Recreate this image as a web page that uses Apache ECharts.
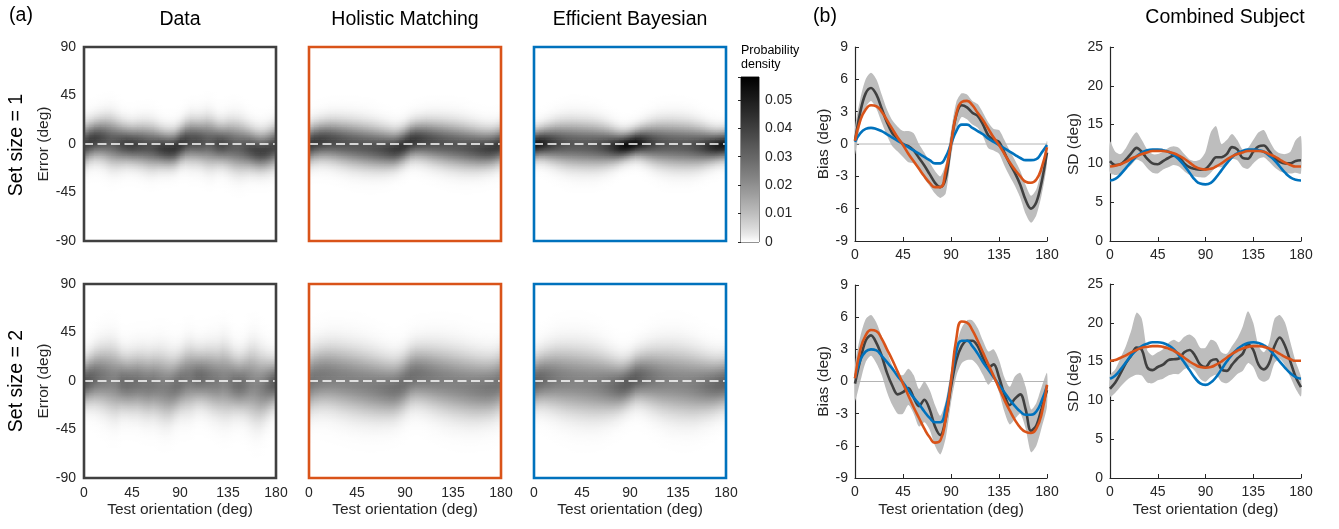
<!DOCTYPE html>
<html><head><meta charset="utf-8">
<script src="https://cdn.jsdelivr.net/npm/echarts@6/dist/echarts.min.js"></script>
<style>html,body{margin:0;padding:0;background:#fff}#c{width:1339px;height:529px}</style>
</head><body><div id="c"></div>
<script>
// ---------- DATA ----------
const ORIENT = [0,5,10,15,20,25,30,35,40,45,50,55,60,65,70,75,80,85,90,95,100,105,110,115,120,125,130,135,140,145,150,155,160,165,170,175,180];
const X_TICKS = [0,45,90,135,180];
const ERR_TICKS = [-90,-45,0,45,90];

// Set size = 1 : bias (deg)
const biasData1   = [0.3,3.0,4.7,5.2,4.6,3.3,2.0,1.0,0.5,0.0,-0.2,-0.6,-1.3,-2.0,-2.8,-3.6,-4.0,-3.2,0.0,2.7,3.6,3.4,2.9,2.6,1.8,0.8,0.4,0.2,-0.8,-1.8,-2.7,-3.8,-5.2,-6.0,-5.4,-3.5,-0.8];
const biasData1Hi = [1.5,4.2,6.0,6.6,6.0,4.6,3.2,2.2,1.6,1.2,1.2,1.0,0.0,-0.8,-1.7,-2.5,-3.0,-1.8,1.2,3.9,4.7,4.6,4.0,3.7,2.9,2.0,1.4,1.3,0.4,-0.6,-1.5,-2.5,-3.8,-4.8,-4.2,-2.3,0.3];
const biasData1Lo = [-1.0,1.8,3.4,4.0,3.3,2.0,0.8,-0.2,-0.7,-1.2,-1.7,-1.8,-2.4,-3.2,-3.9,-4.6,-5.0,-4.6,-1.2,1.4,2.5,2.3,1.8,1.5,0.7,-0.4,-0.6,-0.9,-2.0,-3.0,-3.9,-5.0,-6.5,-7.3,-6.6,-4.7,-1.8];
const biasHolistic1 = [0.3,2.2,3.2,3.6,3.5,3.0,2.2,1.4,0.6,-0.1,-0.9,-1.6,-2.3,-3.0,-3.6,-4.0,-4.0,-2.5,0.0,2.8,3.9,4.0,3.6,2.9,2.2,1.4,0.6,-0.1,-0.9,-1.7,-2.4,-3.0,-3.5,-3.6,-3.3,-2.2,-0.3];
const biasBayes1    = [0.2,1.0,1.4,1.5,1.4,1.2,0.9,0.6,0.3,0.0,-0.3,-0.6,-0.9,-1.2,-1.5,-1.8,-1.8,-1.2,0.0,1.2,1.8,1.8,1.5,1.2,0.9,0.5,0.2,-0.1,-0.4,-0.7,-1.0,-1.3,-1.5,-1.5,-1.4,-0.8,-0.1];

// Set size = 2 : bias (deg)
const biasData2   = [-0.2,2.0,3.8,4.3,3.6,2.4,0.8,-0.4,-1.2,-1.0,-0.6,-1.5,-2.3,-1.7,-2.6,-4.2,-5.0,-3.5,-0.5,2.0,3.3,3.8,3.8,3.3,2.2,1.3,1.6,0.4,-1.2,-2.2,-1.6,-1.2,-2.6,-4.6,-4.1,-2.5,-0.8];
const biasData2Hi = [1.5,4.2,5.8,6.2,5.5,4.2,2.8,1.5,0.7,0.6,1.2,0.6,-0.7,0.0,-0.8,-2.2,-3.2,-1.8,1.0,3.5,5.0,5.7,5.7,5.0,3.8,2.8,3.0,2.0,0.4,-0.5,0.5,0.8,-0.5,-2.6,-2.0,-0.5,0.8];
const biasData2Lo = [-1.8,0.0,1.8,2.4,1.7,0.6,-1.0,-2.2,-3.0,-3.0,-2.2,-3.0,-4.2,-3.8,-4.5,-6.0,-6.8,-5.3,-2.0,0.5,1.7,2.0,2.0,1.5,0.6,-0.3,0.2,-1.0,-2.8,-4.0,-3.5,-3.0,-4.4,-6.6,-6.0,-4.3,-2.3];
const biasHolistic2 = [0.3,3.0,4.3,4.8,4.7,4.0,3.0,2.0,0.9,-0.2,-1.3,-2.4,-3.4,-4.4,-5.2,-5.7,-5.5,-3.5,0.0,4.0,5.6,5.5,4.8,3.8,2.7,1.6,0.5,-0.6,-1.7,-2.7,-3.6,-4.3,-4.7,-4.8,-4.4,-3.0,-0.3];
const biasBayes2    = [0.3,2.0,2.8,3.0,2.9,2.4,1.8,1.2,0.5,-0.1,-0.8,-1.5,-2.1,-2.8,-3.4,-3.8,-3.8,-2.5,0.0,2.8,3.8,3.8,3.3,2.6,1.8,1.1,0.4,-0.3,-1.0,-1.7,-2.3,-2.8,-3.1,-3.1,-2.8,-1.8,-0.4];

// Set size = 1 : SD (deg)
const sdData1   = [10.3,9.8,9.9,10.5,11.3,12.0,11.5,10.6,10.0,9.9,10.3,10.7,11.0,10.8,10.0,9.5,9.3,9.2,9.3,10.0,10.8,10.8,11.2,12.1,11.8,10.7,10.6,11.5,12.2,12.3,11.6,10.7,10.2,10.0,10.0,10.3,10.4];
const sdData1Hi = [12.8,11.5,11.2,12.0,13.2,14.0,13.0,11.8,11.2,11.2,11.5,12.0,12.2,12.0,11.2,10.5,10.3,10.5,11.5,14.0,14.8,12.5,13.0,13.8,13.0,11.8,12.0,13.0,14.0,14.3,13.0,11.8,11.3,11.2,11.5,13.0,13.5];
const sdData1Lo = [8.8,8.5,8.7,9.2,9.8,10.5,10.2,9.4,8.8,8.7,9.2,9.5,9.8,9.6,9.0,8.5,8.3,8.2,8.2,8.8,9.5,9.5,9.9,10.6,10.4,9.5,9.3,10.0,10.6,10.8,10.2,9.5,9.0,8.8,8.7,8.8,8.7];
const sdHolistic1 = [9.6,9.7,9.9,10.2,10.6,10.9,11.2,11.4,11.6,11.6,11.6,11.5,11.3,11.0,10.6,10.1,9.6,9.3,9.2,9.3,9.6,10.0,10.5,10.9,11.2,11.4,11.6,11.6,11.6,11.5,11.2,10.9,10.5,10.1,9.8,9.6,9.6];
const sdBayes1    = [7.8,8.0,8.6,9.4,10.2,10.9,11.4,11.7,11.8,11.8,11.7,11.5,11.1,10.5,9.7,8.8,7.9,7.4,7.3,7.5,8.2,9.1,10.0,10.8,11.3,11.6,11.8,11.8,11.7,11.5,11.0,10.4,9.6,8.8,8.2,7.9,7.8];

// Set size = 2 : SD (deg)
const sdData2   = [11.5,12.3,13.5,14.8,15.8,16.8,16.5,14.3,13.9,14.3,14.6,15.2,15.3,15.4,16.2,16.5,15.8,14.6,14.3,15.1,15.3,14.0,13.8,14.6,15.4,16.0,17.2,16.5,14.6,14.0,14.8,17.0,18.1,17.0,15.0,13.0,11.7];
const sdData2Hi = [13.2,14.0,15.5,17.0,19.0,21.3,20.5,16.5,15.8,16.2,16.6,17.4,17.8,17.5,18.2,18.5,18.0,16.8,16.8,17.8,17.5,16.2,16.0,17.0,18.0,19.5,21.5,20.0,17.0,16.2,17.5,20.5,21.0,20.0,17.5,15.0,13.0];
const sdData2Lo = [10.5,11.0,11.8,12.5,13.0,13.3,13.2,12.3,12.2,12.6,12.8,13.2,13.4,13.4,14.0,14.3,13.8,12.8,12.4,13.0,13.3,12.4,12.2,12.7,13.4,13.8,14.8,14.3,12.8,12.4,12.8,14.8,15.3,14.5,13.0,11.5,10.5];
const sdHolistic2 = [15.1,15.2,15.5,15.8,16.2,16.5,16.8,16.9,17.0,17.0,16.9,16.7,16.4,16.0,15.5,15.0,14.6,14.3,14.2,14.3,14.6,15.0,15.5,16.0,16.4,16.7,16.9,17.0,17.0,16.9,16.7,16.4,16.0,15.6,15.3,15.1,15.1];
const sdBayes2    = [12.8,13.2,14.0,14.9,15.8,16.5,17.0,17.3,17.5,17.5,17.4,17.1,16.6,15.8,14.9,13.9,12.9,12.2,12.0,12.3,13.0,14.0,15.0,15.9,16.6,17.1,17.4,17.5,17.4,17.1,16.6,15.8,15.0,14.2,13.5,13.0,12.8];

const CB_MAX = 0.058; // colorbar top

// ---------- STYLE ----------
const FONT = "'Liberation Sans', Arial, sans-serif";
const TXT = '#262626';
const C_DATA = '#404040', C_HOL = '#D95319', C_BAY = '#0072BD', C_BAND = '#bdbdbd';
const GAMMA = 0.78;

const grids = [], xAxes = [], yAxes = [], series = [];

function grayOf(d){ const v = Math.max(0, Math.min(1, d / CB_MAX)); return Math.round(255 * (1 - Math.pow(v, GAMMA))); }
function dens(e, b, s){ return Math.exp(-(e-b)*(e-b)/(2*s*s)) / (s*Math.sqrt(2*Math.PI)); }
const rgb = g => `rgb(${g},${g},${g})`;

function renderCell(params, api){
  const p0 = api.coord([api.value(0), api.value(3)]);
  const p1 = api.coord([api.value(1), api.value(2)]);
  const g0 = api.value(4), g1 = api.value(5);
  return {type:'rect', shape:{x:p0[0], y:p0[1], width:p1[0]-p0[0]+0.7, height:p1[1]-p0[1]+0.7},
    style:{fill:new echarts.graphic.LinearGradient(0,0,1,0,[{offset:0,color:rgb(g0)},{offset:1,color:rgb(g1)}])}};
}

const STEP = 1.5;
function heatCells(b, s){
  const out = [];
  for (let i = 0; i < ORIENT.length-1; i++){
    for (let e = -90; e < 90 - 1e-9; e += STEP){
      const m = e + STEP/2;
      const g0 = grayOf(dens(m, b[i], s[i])), g1 = grayOf(dens(m, b[i+1], s[i+1]));
      if (g0 >= 255 && g1 >= 255) continue;
      out.push([ORIENT[i], ORIENT[i+1], e, e+STEP, g0, g1]);
    }
  }
  return out;
}

const axisNameStyle = {color:TXT, fontSize:15.5, fontFamily:FONT};
const tickLabel = (show, margin) => ({show, color:TXT, fontSize:14, fontFamily:FONT, margin});

// ---------- (a) heatmaps ----------
const hmLeft = [84, 309, 534], hmTop = [47, 284], HM_W = 192, HM_H = 194;
const hmSets = [
  [{b:biasData1, s:sdData1, c:C_DATA}, {b:biasHolistic1, s:sdHolistic1, c:C_HOL}, {b:biasBayes1, s:sdBayes1, c:C_BAY}],
  [{b:biasData2, s:sdData2, c:C_DATA}, {b:biasHolistic2, s:sdHolistic2, c:C_HOL}, {b:biasBayes2, s:sdBayes2, c:C_BAY}]
];
hmSets.forEach((row, r) => row.forEach((p, c) => {
  const gi = grids.length;
  grids.push({left:hmLeft[c], top:hmTop[r], width:HM_W, height:HM_H, containLabel:false});
  xAxes.push({gridIndex:gi, type:'value', min:0, max:180, interval:45,
    axisLine:{show:false}, axisTick:{show:false}, splitLine:{show:false},
    axisLabel:tickLabel(r===1, 8),
    name: r===1 ? 'Test orientation (deg)' : '', nameLocation:'middle', nameGap:24, nameTextStyle:axisNameStyle});
  yAxes.push({gridIndex:gi, type:'value', min:-90, max:90, interval:45,
    axisLine:{show:false}, axisTick:{show:false}, splitLine:{show:false},
    axisLabel:tickLabel(c===0, 8),
    name: c===0 ? 'Error (deg)' : '', nameLocation:'middle', nameGap:25, nameTextStyle:axisNameStyle});
  series.push({type:'custom', xAxisIndex:gi, yAxisIndex:gi, silent:true, clip:true, z:1,
    data:heatCells(p.b, p.s), encode:{x:[0,1], y:[2,3]}, renderItem:renderCell, progressive:0});
  series.push({type:'line', xAxisIndex:gi, yAxisIndex:gi, silent:true, z:5, symbol:'none',
    data:[[0,0],[180,0]], lineStyle:{color:'#ffffff', width:1.4, type:[9,4.5]}});
  series.push({type:'custom', xAxisIndex:gi, yAxisIndex:gi, silent:true, clip:false, z:10,
    data:[[0,0]], renderItem:(pa, api) => {
      const a = api.coord([0,90]), b2 = api.coord([180,-90]);
      return {type:'rect', shape:{x:a[0], y:a[1], width:b2[0]-a[0], height:b2[1]-a[1]},
        style:{fill:'none', stroke:p.c, lineWidth:2.6}};
    }});
}));

// ---------- colorbar ----------
{
  const gi = grids.length;
  grids.push({left:741, top:77, width:18, height:165, show:true, borderColor:TXT, borderWidth:1, backgroundColor:'transparent'});
  xAxes.push({gridIndex:gi, type:'value', min:0, max:1, show:false});
  yAxes.push({gridIndex:gi, type:'value', position:'right', min:0, max:CB_MAX, interval:0.01,
    axisLine:{show:false}, splitLine:{show:false},
    axisTick:{show:true, inside:true, length:3, lineStyle:{color:TXT}},
    axisLabel:{color:TXT, fontSize:14, fontFamily:FONT, margin:6,
      formatter:v => (Math.abs(v*100 - Math.round(v*100)) < 1e-6 && v <= 0.05 + 1e-9) ? String(+v.toFixed(2)) : ''}});
  const stops = [];
  for (let k = 0; k <= 24; k++) stops.push({offset:k/24, color:rgb(grayOf(CB_MAX*(1-k/24)))});
  series.push({type:'custom', xAxisIndex:gi, yAxisIndex:gi, silent:true, data:[[0,0]],
    renderItem:(pa, api) => {
      const a = api.coord([0, CB_MAX]), b2 = api.coord([1, 0]);
      return {type:'rect', shape:{x:a[0], y:a[1], width:b2[0]-a[0], height:b2[1]-a[1]},
        style:{fill:new echarts.graphic.LinearGradient(0,0,0,1,stops)}};
    }});
}

// ---------- (b) bias & SD ----------
function bandRender(hi, lo){
  return (params, api) => {
    const pts = [];
    for (let i = 0; i < ORIENT.length; i++) pts.push(api.coord([ORIENT[i], hi[i]]));
    for (let i = ORIENT.length-1; i >= 0; i--) pts.push(api.coord([ORIENT[i], lo[i]]));
    return {type:'polygon', shape:{points:pts, smooth:0.25}, style:{fill:C_BAND}};
  };
}
const zip = arr => ORIENT.map((x, i) => [x, arr[i]]);
const panelsB = [
  {left:855, top:47,  w:192, h:194, min:-9, max:9, iv:3, name:'Bias (deg)', gap:23, d:biasData1, hi:biasData1Hi, lo:biasData1Lo, hol:biasHolistic1, bay:biasBayes1, zero:true, xname:false},
  {left:1110, top:47, w:191, h:194, min:0, max:25, iv:5, name:'SD (deg)', gap:28, d:sdData1, hi:sdData1Hi, lo:sdData1Lo, hol:sdHolistic1, bay:sdBayes1, zero:false, xname:false},
  {left:855, top:285, w:192, h:193, min:-9, max:9, iv:3, name:'Bias (deg)', gap:23, d:biasData2, hi:biasData2Hi, lo:biasData2Lo, hol:biasHolistic2, bay:biasBayes2, zero:true, xname:true},
  {left:1110, top:284, w:191, h:194, min:0, max:25, iv:5, name:'SD (deg)', gap:28, d:sdData2, hi:sdData2Hi, lo:sdData2Lo, hol:sdHolistic2, bay:sdBayes2, zero:false, xname:true}
];
panelsB.forEach(p => {
  const gi = grids.length;
  grids.push({left:p.left, top:p.top, width:p.w, height:p.h});
  xAxes.push({gridIndex:gi, type:'value', min:0, max:180, interval:45,
    axisLine:{show:true, onZero:false, lineStyle:{color:TXT, width:1.2}},
    axisTick:{show:true, inside:true, length:4, lineStyle:{color:TXT}}, splitLine:{show:false},
    axisLabel:tickLabel(true, 7),
    name: p.xname ? 'Test orientation (deg)' : '', nameLocation:'middle', nameGap:24, nameTextStyle:axisNameStyle});
  yAxes.push({gridIndex:gi, type:'value', min:p.min, max:p.max, interval:p.iv,
    axisLine:{show:true, onZero:false, lineStyle:{color:TXT, width:1.2}},
    axisTick:{show:true, inside:true, length:4, lineStyle:{color:TXT}}, splitLine:{show:false},
    axisLabel:tickLabel(true, 7),
    name:p.name, nameLocation:'middle', nameGap:p.gap, nameTextStyle:axisNameStyle});
  series.push({type:'custom', xAxisIndex:gi, yAxisIndex:gi, silent:true, z:1, data:[[0, p.d[0]]],
    renderItem:bandRender(p.hi, p.lo)});
  if (p.zero) series.push({type:'line', xAxisIndex:gi, yAxisIndex:gi, silent:true, z:2, symbol:'none',
    data:[[0,0],[180,0]], lineStyle:{color:'#b4b4b4', width:1}});
  series.push({type:'line', xAxisIndex:gi, yAxisIndex:gi, silent:true, z:3, symbol:'none', smooth:0.35,
    data:zip(p.d), lineStyle:{color:C_DATA, width:2.6}});
  series.push({type:'line', xAxisIndex:gi, yAxisIndex:gi, silent:true, z:4, symbol:'none', smooth:0.5,
    data:zip(p.bay), lineStyle:{color:C_BAY, width:2.6}});
  series.push({type:'line', xAxisIndex:gi, yAxisIndex:gi, silent:true, z:5, symbol:'none', smooth:0.5,
    data:zip(p.hol), lineStyle:{color:C_HOL, width:2.6}});
});

// ---------- texts ----------
const txt = (text, x, y, size, opts={}) => Object.assign({type:'text', x, y, silent:true,
  style:{text, fontSize:size, fontFamily:FONT, fill:'#000', align:'center', verticalAlign:'middle'}}, opts);
const graphic = [
  txt('(a)', 21, 16, 19.5),
  txt('(b)', 825, 17, 19.5),
  txt('Data', 180, 20, 19.5),
  txt('Holistic Matching', 405, 20, 19.5),
  txt('Efficient Bayesian', 630, 20, 19.5),
  txt('Combined Subject', 1225, 18, 19.5),
  txt('Set size = 1', 17, 145, 19.5, {rotation:Math.PI/2}),
  txt('Set size = 2', 17, 381, 19.5, {rotation:Math.PI/2}),
  {type:'text', x:741, y:44, silent:true, style:{text:'Probability\ndensity', fontSize:12.5, lineHeight:14, fontFamily:FONT, fill:'#000', align:'left', verticalAlign:'top'}}
];

const chart = echarts.init(document.getElementById('c'), null, {renderer:'canvas'});
chart.setOption({animation:false, backgroundColor:'#fff', grid:grids, xAxis:xAxes, yAxis:yAxes, series, graphic});
</script></body></html>
